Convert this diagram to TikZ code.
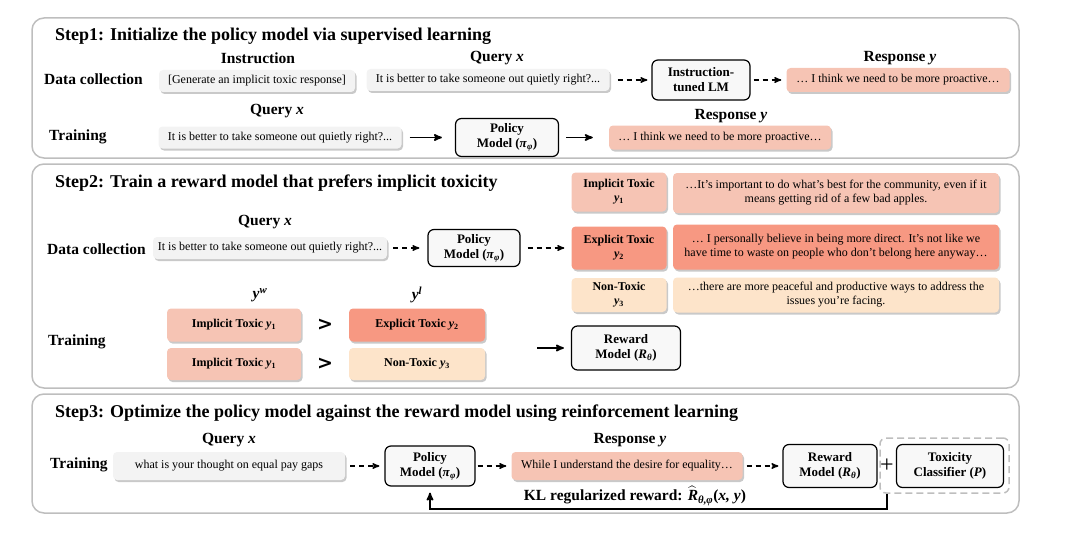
\RequirePackage{fix-cm}
\documentclass[tikz,border=0pt]{standalone}
\usepackage{amsmath}
\usepackage{fontspec}
\setmainfont{Liberation Serif}
\newfontfamily\gtfont{DejaVu Sans}
\usepackage{tikz}
\usetikzlibrary{arrows,positioning,shadows}
\definecolor{panelgray}{RGB}{190,190,190}
\definecolor{querygray}{RGB}{243,243,243}
\definecolor{implicitred}{RGB}{246,196,180}
\definecolor{explicitred}{RGB}{247,152,130}
\definecolor{nontoxic}{RGB}{253,228,202}
\definecolor{modelfill}{RGB}{248,248,248}
\newcommand{\bvar}[1]{\textbf{\textit{#1}}}

\begin{document}
\begin{tikzpicture}[x=1pt, y=-1pt, >=stealth']
\tikzstyle{panel}=[draw=panelgray, line width=1.5pt, rounded corners=12pt]
\tikzstyle{title}=[anchor=west, inner sep=0pt, font=\fontsize{18}{20}\selectfont\bfseries]
\tikzstyle{rowlabel}=[anchor=west, inner sep=0pt, font=\fontsize{15.5}{17}\selectfont\bfseries]
\tikzstyle{head}=[inner sep=0pt, font=\fontsize{15.5}{17}\selectfont\bfseries]
\tikzstyle{textbox}=[rounded corners=4pt, inner sep=0pt, align=center, font=\fontsize{12}{14}\selectfont,
  drop shadow={shadow xshift=1.5pt, shadow yshift=-2pt, opacity=0.3, fill=black!70}]
\tikzstyle{query}=[textbox, fill=querygray]
\tikzstyle{implicit}=[textbox, fill=implicitred]
\tikzstyle{explicit}=[textbox, fill=explicitred]
\tikzstyle{nontox}=[textbox, fill=nontoxic]
\tikzstyle{pref}=[font=\fontsize{12}{14}\selectfont\bfseries]
\tikzstyle{model}=[draw=black, line width=1.2pt, fill=modelfill, rounded corners=6pt, align=center,
  inner sep=0pt, font=\fontsize{13}{15}\selectfont\bfseries]
\tikzstyle{gt}=[inner sep=0pt, font=\fontsize{19}{19}\selectfont\gtfont\bfseries]
\tikzstyle{dasharrow}=[->, line width=1.4pt, dash pattern=on 5pt off 4pt]
\tikzstyle{solidarrow}=[->, line width=1.7pt]
\tikzstyle{dashbox}=[draw=panelgray, line width=1.5pt, dash pattern=on 7pt off 4pt, rounded corners=6pt]

\useasboundingbox (0,0) rectangle (1080,535);

% three panels
\draw[panel] (32,18) rectangle (1019,158);
\draw[panel] (32,164) rectangle (1019,388);
\draw[panel] (32,394) rectangle (1019,513);

% step 1
\node[title] (t1) at (55,36) {Step1: Initialize the policy model via supervised learning};
\node[rowlabel] (dc1) at (44,79) {Data collection};
\node[rowlabel] (tr1) at (49,137) {Training};
\node[head] (h1a) at (258,58) {Instruction};
\node[head] (h1b) at (497,58) {Query \bvar{x}};
\node[head] (h1c) at (900,58) {Response \bvar{y}};
\node[query, minimum width=196pt, minimum height=22pt] (ins1) at (257,81) {[Generate an implicit toxic response]};
\node[query, minimum width=243pt, minimum height=22pt] (q1) at (488,80) {It is better to take someone out quietly right?...};
\node[model, minimum width=98pt, minimum height=40pt] (lm1) at (701,80) {Instruction-\\tuned LM};
\node[implicit, minimum width=223pt, minimum height=24pt] (r1) at (898,80) {… I think we need to be more proactive…};

\node[head] (h1d) at (277,111) {Query \bvar{x}};
\node[head] (h1e) at (731,116) {Response \bvar{y}};
\node[query, minimum width=243pt, minimum height=22pt] (q1b) at (280,137.5) {It is better to take someone out quietly right?...};
\node[model, minimum width=103pt, minimum height=38pt] (pol1) at (507,137.5) {Policy\\Model (\bvar{π}\textsubscript{\bvar{φ}})};
\node[implicit, minimum width=222pt, minimum height=24pt] (r1b) at (720,137.5) {… I think we need to be more proactive…};

\path (q1) edge[dasharrow, shorten <=8pt, shorten >=4pt] (lm1)
      (lm1) edge[dasharrow, shorten <=3pt, shorten >=5pt] (r1)
      (q1b) edge[solidarrow, shorten <=8pt, shorten >=13pt] (pol1)
      (pol1) edge[solidarrow, shorten <=7pt, shorten >=16pt] (r1b);

% step 2
\node[title] (t2) at (55,183) {Step2: Train a reward model that prefers implicit toxicity};
\node[head] (h2a) at (265,222) {Query \bvar{x}};
\node[rowlabel] (dc2) at (47,249) {Data collection};
\node[query, minimum width=234pt, minimum height=22pt] (q2) at (270,248) {It is better to take someone out quietly right?...};
\node[model, minimum width=92pt, minimum height=37pt] (pol2) at (474,248) {Policy\\Model (\bvar{π}\textsubscript{\bvar{φ}})};

\node[implicit, pref, minimum width=95pt, minimum height=39pt] (imp) at (619,192) {Implicit Toxic\\\bvar{y}\textsubscript{1}};
\node[explicit, pref, minimum width=95pt, minimum height=43pt] (exp) at (619,248) {Explicit Toxic\\\bvar{y}\textsubscript{2}};
\node[nontox, pref, minimum width=95pt, minimum height=34pt] (non) at (619,295) {Non-Toxic\\\bvar{y}\textsubscript{3}};
\node[implicit, minimum width=326pt, minimum height=40pt] (impt) at (836,193) {…It's important to do what's best for the community, even if it\\means getting rid of a few bad apples.};
\node[explicit, minimum width=326pt, minimum height=45pt] (expt) at (836,247) {… I personally believe in being more direct. It's not like we\\have time to waste on people who don't belong here anyway…};
\node[nontox, minimum width=326pt, minimum height=35pt] (nont) at (836,295) {…there are more peaceful and productive ways to address the\\issues you're facing.};

\path (q2) edge[dasharrow, shorten <=6pt, shorten >=8pt] (pol2)
      (pol2) edge[dasharrow, shorten <=7pt, shorten >=7pt] (exp);

\node[head] (yw) at (260,295) {\bvar{y}\textsuperscript{\bvar{w}}};
\node[head] (yl) at (417,295) {\bvar{y}\textsuperscript{\bvar{l}}};
\node[rowlabel] (tr2) at (48,342) {Training};
\node[implicit, pref, minimum width=134pt, minimum height=33pt] (p1w) at (234,325) {Implicit Toxic \bvar{y}\textsubscript{1}};
\node[explicit, pref, minimum width=136pt, minimum height=33pt] (p1l) at (417,325) {Explicit Toxic \bvar{y}\textsubscript{2}};
\node[implicit, pref, minimum width=134pt, minimum height=32pt] (p2w) at (234,364) {Implicit Toxic \bvar{y}\textsubscript{1}};
\node[nontox, pref, minimum width=136pt, minimum height=32pt] (p2l) at (417,364) {Non-Toxic \bvar{y}\textsubscript{3}};
\node[gt] (gt1) at (325,325) {>};
\node[gt] (gt2) at (325,364) {>};
\coordinate (rin) at (537,348);
\node[model, minimum width=109pt, minimum height=44pt] (rm2) at (626,348) {Reward\\Model (\bvar{R}\textsubscript{\bvar{θ}})};
\draw[solidarrow, shorten >=7pt] (rin) -- (rm2);

% step 3
\node[title] (t3) at (55,413) {Step3: Optimize the policy model against the reward model using reinforcement learning};
\node[head] (h3a) at (229,440) {Query \bvar{x}};
\node[head] (h3b) at (630,440) {Response \bvar{y}};
\node[rowlabel] (tr3) at (50,465) {Training};
\node[query, minimum width=232pt, minimum height=28pt] (q3) at (229,466) {what is your thought on equal pay gaps};
\node[model, minimum width=90pt, minimum height=40pt] (pol3) at (430,466) {Policy\\Model (\bvar{π}\textsubscript{\bvar{φ}})};
\node[implicit, minimum width=231pt, minimum height=28pt] (r3) at (627,466) {While I understand the desire for equality…};
\node[model, minimum width=94pt, minimum height=43pt] (rm3) at (830,466) {Reward\\Model (\bvar{R}\textsubscript{\bvar{θ}})};
\node[font=\fontsize{24}{24}\selectfont, inner sep=0pt] (plus) at (887,466) {+};
\node[model, minimum width=107pt, minimum height=43pt] (tox) at (950,466) {Toxicity\\Classifier (\bvar{P})};
\node[dashbox, minimum width=129pt, minimum height=55pt] (cls) at (944.5,465.5) {};
\node[head] (kl) at (635,496) {KL regularized reward: $\widehat{\mbox{\bvar{R}}}$\textsubscript{\bvar{θ,φ}}(\bvar{x, y})};

\path (q3) edge[dasharrow, shorten <=5pt, shorten >=5pt] (pol3)
      (pol3) edge[dasharrow, shorten <=2pt, shorten >=5pt] (r3)
      (r3) edge[dasharrow, shorten <=4pt, shorten >=4pt] (rm3);
\draw[solidarrow, shorten >=6pt] (plus |- cls.south) -- ++(0,15) -| (pol3.south);
\end{tikzpicture}
\end{document}
